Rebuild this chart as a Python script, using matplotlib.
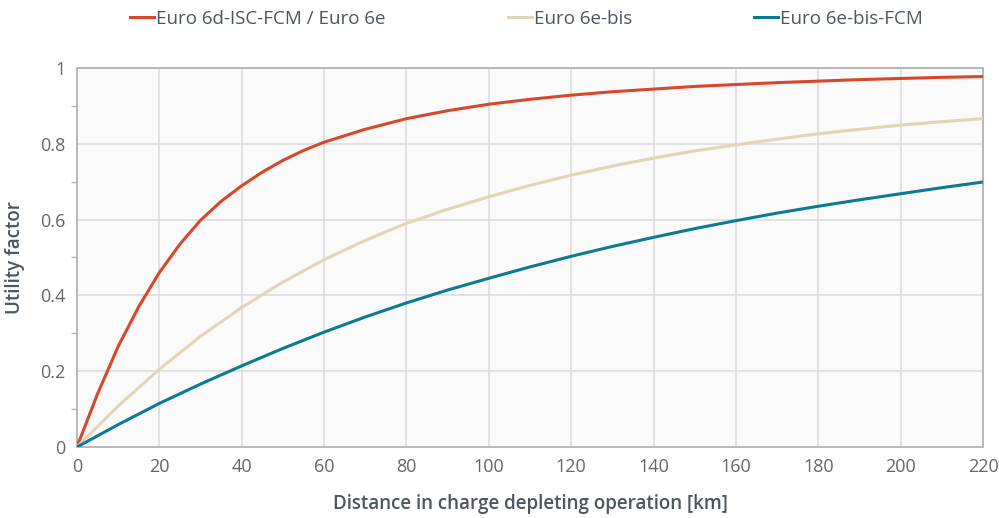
import numpy as np
import matplotlib
matplotlib.use('Agg')
import matplotlib.pyplot as plt
from matplotlib.ticker import MultipleLocator

# distances [km] and utility factors
km_red = [0, 5, 10, 15, 20, 25, 30, 35, 40, 45, 50, 55, 60, 70, 80, 90, 100,
          110, 120, 130, 140, 150, 160, 170, 180, 190, 200, 210, 220]
uf_red = [0, 0.14, 0.265, 0.37, 0.46, 0.535, 0.598, 0.648, 0.689, 0.725,
          0.756, 0.782, 0.804, 0.838, 0.866, 0.887, 0.904, 0.917, 0.928,
          0.937, 0.944, 0.951, 0.956, 0.961, 0.965, 0.969, 0.972, 0.975, 0.977]
km = [0, 10, 20, 30, 40, 50, 60, 70, 80, 90, 100, 110, 120, 130, 140, 150,
      160, 170, 180, 190, 200, 210, 220]
uf_bis = [0, 0.108, 0.205, 0.292, 0.368, 0.435, 0.494, 0.545, 0.59, 0.627,
          0.66, 0.69, 0.717, 0.741, 0.762, 0.781, 0.797, 0.812, 0.826, 0.838,
          0.849, 0.858, 0.866]
uf_fcm = [0, 0.059, 0.115, 0.166, 0.214, 0.26, 0.303, 0.343, 0.38, 0.414,
          0.445, 0.475, 0.503, 0.529, 0.553, 0.576, 0.597, 0.617, 0.635,
          0.652, 0.668, 0.684, 0.699]

plt.rcParams['font.family'] = ['Open Sans', 'DejaVu Sans']
txt = '#4a5661'
fig = plt.figure(figsize=(9.99, 5.18), dpi=100)
ax = fig.add_axes([0.077, 0.137, 0.907, 0.732])
ax.set_facecolor('#fafafa')

ax.plot(km_red, uf_red, color='#d9472b', lw=2.2, label='Euro 6d-ISC-FCM / Euro 6e', zorder=3)
ax.plot(km, uf_bis, color='#e0d6b6', lw=2.2, label='Euro 6e-bis', zorder=3)
ax.plot(km, uf_fcm, color='#0b7a93', lw=2.2, label='Euro 6e-bis-FCM', zorder=3)

ax.set_xlim(0, 220); ax.set_ylim(0, 1)
ax.xaxis.set_major_locator(MultipleLocator(20))
ax.yaxis.set_minor_locator(MultipleLocator(0.1))
ax.set_yticks([0, 0.2, 0.4, 0.6, 0.8, 1.0])
ax.set_yticklabels(['0', '0.2', '0.4', '0.6', '0.8', '1'])
ax.tick_params(axis='both', which='major', length=0, labelsize=13, colors='#666666', pad=8)
ax.tick_params(axis='y', which='minor', length=4, color='#b5b5b5', width=1)
ax.tick_params(axis='x', which='minor', length=0)
ax.grid(True, which='major', color='#dadada', lw=1.1, zorder=0)
for s in ax.spines.values():
    s.set_color('#b8b8b8'); s.set_linewidth(1.4)

ax.set_xlabel('Distance in charge depleting operation [km]', fontsize=13.5,
              fontweight='semibold', color=txt, labelpad=13)
ax.set_ylabel('Utility factor', fontsize=13.5, fontweight='semibold', color=txt, labelpad=11)

fig.legend(loc='upper center', bbox_to_anchor=(0.527, 1.014), ncol=3, frameon=False,
           fontsize=13.5, handlelength=1.3, handletextpad=0.1, columnspacing=6.5,
           labelcolor=txt)

plt.savefig('out.png', dpi=100)
